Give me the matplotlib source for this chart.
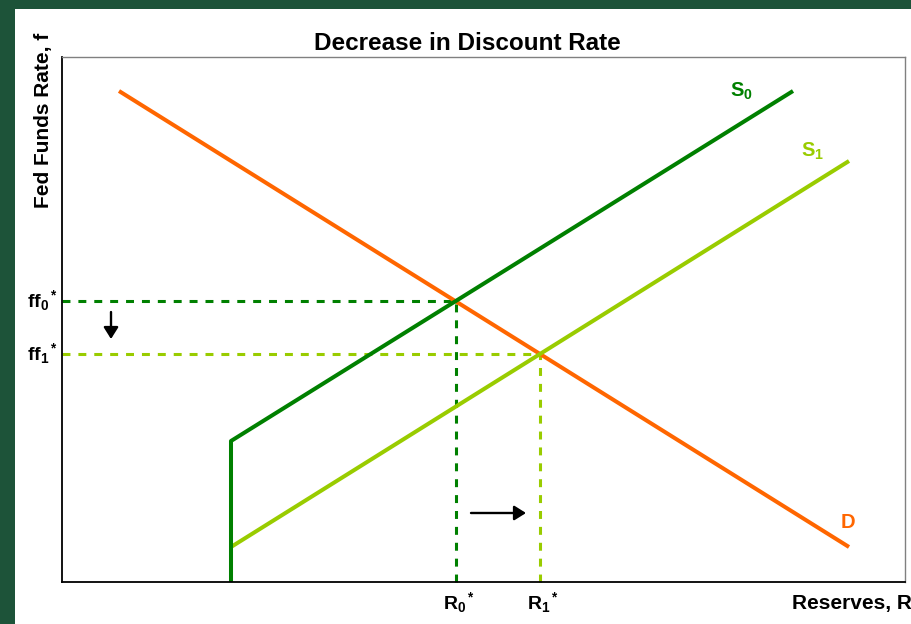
import matplotlib
matplotlib.use('Agg')
from matplotlib import pyplot as plt
from matplotlib.patches import Rectangle

plt.rcParams['font.family'] = ['Liberation Sans', 'DejaVu Sans']
plt.rcParams['mathtext.fontset'] = 'custom'
plt.rcParams['mathtext.rm'] = 'Liberation Sans'
plt.rcParams['mathtext.bf'] = 'Liberation Sans:bold'
plt.rcParams['mathtext.it'] = 'Liberation Sans:italic'

# curves (reserves, fed funds rate)
d_x = [57, 787]
d_y = [491, 35]
s0_x = [169, 169, 731]
s0_y = [0, 141, 491]
s1_x = [169, 787]
s1_y = [35, 421]

# equilibria
r0, ff0 = 394, 281
r1, ff1 = 478, 228

orange = '#FF6600'
dgreen = '#008000'
lgreen = '#99CC00'

fig = plt.figure(figsize=(9.12, 6.24), dpi=100)
fig.patch.set_facecolor('#1D5339')
fig.patches.append(Rectangle((15 / 912, 0), 1, 615 / 624, transform=fig.transFigure,
                             facecolor='white', edgecolor='none', zorder=-10))

ax = fig.add_axes([62 / 912, 42 / 624, 843 / 912, 525 / 624])
ax.set_facecolor('white')
ax.set_xlim(0, 843)
ax.set_ylim(0, 525)
ax.set_xticks([])
ax.set_yticks([])
for s in ['left', 'bottom']:
    ax.spines[s].set_color('black')
    ax.spines[s].set_linewidth(1.3)
for s in ['top', 'right']:
    ax.spines[s].set_color('#808080')
    ax.spines[s].set_linewidth(1)

# dashed guides
dash = (0, (2.6, 2.6))
ax.plot([0, r0], [ff0, ff0], color=dgreen, lw=2.2, linestyle=dash, clip_on=False)
ax.plot([r0, r0], [0, ff0], color=dgreen, lw=2.2, linestyle=dash, clip_on=False)
ax.plot([0, r1], [ff1, ff1], color=lgreen, lw=2.2, linestyle=dash, clip_on=False)
ax.plot([r1, r1], [0, ff1], color=lgreen, lw=2.2, linestyle=dash, clip_on=False)

ax.plot(d_x, d_y, color=orange, lw=2.9, solid_capstyle='butt')
ax.plot(s1_x, s1_y, color=lgreen, lw=2.9, solid_capstyle='butt')
ax.plot(s0_x, s0_y, color=dgreen, lw=2.9, solid_capstyle='butt')

# shift arrows
arr = dict(arrowstyle='-|>,head_length=0.35,head_width=0.22', color='black', lw=1.7,
           mutation_scale=20, shrinkA=0, shrinkB=0)
ax.annotate('', xy=(49, 243), xytext=(49, 270), arrowprops=arr)
ax.annotate('', xy=(464, 69), xytext=(409, 69), arrowprops=arr)

# curve labels
ax.text(679, 491, r'$\mathbf{S_0}$', color=dgreen, fontsize=14.5, ha='center', va='center')
ax.text(751, 431, r'$\mathbf{S_1}$', color=lgreen, fontsize=14.5, ha='center', va='center')
ax.text(786, 60, 'D', color=orange, fontsize=14.5, fontweight='bold', ha='center', va='center')

# axis marks
ax.text(-4, ff0, r'$\mathbf{ff_0{}^*}$', fontsize=14, ha='right', va='center')
ax.text(-4, ff1, r'$\mathbf{ff_1{}^*}$', fontsize=14, ha='right', va='center')
ax.text(r0 + 3, -8, r'$\mathbf{R_0{}^*}$', fontsize=14, ha='center', va='top')
ax.text(r1 + 3, -8, r'$\mathbf{R_1{}^*}$', fontsize=14, ha='center', va='top')

fig.text(467 / 912, 1 - 43 / 624, 'Decrease in Discount Rate', fontsize=17.5,
         fontweight='bold', ha='center', va='center')
fig.text(44 / 912, 1 - 33 / 624, 'Fed Funds Rate, f', fontsize=15, fontweight='bold',
         rotation=90, ha='center', va='top')
fig.text(792 / 912, 1 - 604 / 624, 'Reserves, R', fontsize=15, fontweight='bold',
         ha='left', va='center')

fig.savefig('out.png', dpi=100, facecolor=fig.get_facecolor())
